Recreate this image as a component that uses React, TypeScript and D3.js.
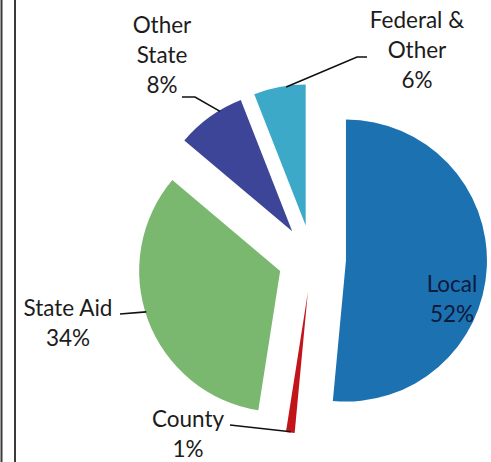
import React from "react";
import * as d3 from "d3";

// Revenue sources, share of total (%)
const categories = ["Local", "County", "State Aid", "Other State", "Federal & Other"];
const shares = [52, 1, 34, 8, 6];
const sliceColors = ["#1c71b1", "#c2151b", "#7ab870", "#3c4597", "#3ba9c7"];
const labelLines = [["Local", "52%"], ["County", "1%"], ["State Aid", "34%"], ["Other", "State", "8%"], ["Federal &", "Other", "6%"]];

const W = 491;
const H = 462;
const CX = 312;
const CY = 259;
const R = 141;
const EXPLODE = 34;
const LINE_H = 30;
const FONT = "Lato, 'Open Sans', sans-serif";
const FONT_SIZE = 22.5;

// Label placement: text anchor (x, first baseline), optional elbow, and the angle on the arc where the leader meets the slice
type LabelLayout = { x: number; y: number; inside?: boolean; elbow?: [number, number][]; hitDeg?: number };
const labelLayout: LabelLayout[] = [
  { x: 452, y: 292, inside: true },
  { x: 188, y: 427, elbow: [[230, 425]], hitDeg: 187 },
  { x: 68, y: 316, elbow: [[120, 314]], hitDeg: 253 },
  { x: 162, y: 33, elbow: [[182, 97], [195, 97]], hitDeg: 329 },
  { x: 417, y: 28, elbow: [[367, 57], [357, 57]], hitDeg: 352 },
];

export default function App() {
  const pie = d3
    .pie<number>()
    .sort(null)
    .value((d) => d)
    .startAngle(0)
    .endAngle(2 * Math.PI);
  const arcs = pie(shares);
  const arc = d3.arc<d3.PieArcDatum<number>>().innerRadius(0).outerRadius(R);

  const apex = (a: d3.PieArcDatum<number>): [number, number] => {
    const mid = (a.startAngle + a.endAngle) / 2;
    return [CX + EXPLODE * Math.sin(mid), CY - EXPLODE * Math.cos(mid)];
  };

  return (
    <svg width={W} height={H} style={{ position: "absolute", left: 0, top: 0, background: "#fff" }}>
      {/* frame rules on the left */}
      <line x1={1.5} y1={0} x2={1.5} y2={H} stroke="#3a3a3a" strokeWidth={2} />
      <line x1={15} y1={0} x2={15} y2={H} stroke="#3a3a3a" strokeWidth={2} />

      {arcs.map((a, i) => {
        const [ax, ay] = apex(a);
        return <path key={categories[i]} d={arc(a) || ""} transform={`translate(${ax},${ay})`} fill={sliceColors[i]} />;
      })}

      {arcs.map((a, i) => {
        const lay = labelLayout[i];
        if (lay.inside || lay.hitDeg === undefined) return null;
        const [ax, ay] = apex(a);
        const t = (lay.hitDeg * Math.PI) / 180;
        const hit: [number, number] = [ax + (R - 1) * Math.sin(t), ay - (R - 1) * Math.cos(t)];
        const pts = [...(lay.elbow || []), hit];
        return (
          <polyline
            key={"leader-" + categories[i]}
            points={pts.map((p) => p.join(",")).join(" ")}
            fill="none"
            stroke="#111"
            strokeWidth={1.6}
          />
        );
      })}

      {labelLayout.map((lay, i) => (
        <text
          key={"label-" + categories[i]}
          x={lay.x}
          y={lay.y}
          textAnchor="middle"
          fontFamily={FONT}
          fontSize={FONT_SIZE}
          fill={lay.inside ? "#0c1a3c" : "#1c1c1c"}
        >
          {labelLines[i].map((line, j) => (
            <tspan key={j} x={lay.x} dy={j === 0 ? 0 : LINE_H}>
              {line}
            </tspan>
          ))}
        </text>
      ))}
    </svg>
  );
}
